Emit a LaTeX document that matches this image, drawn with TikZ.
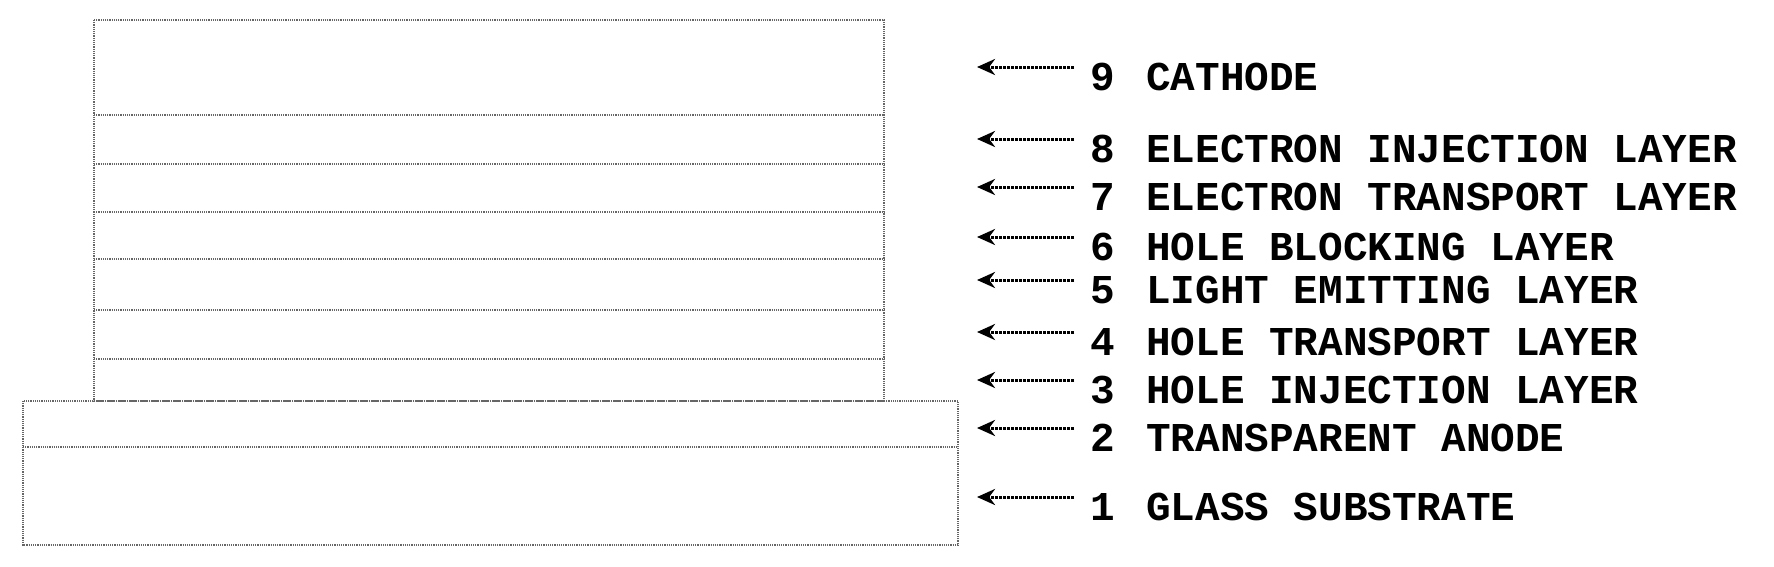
\documentclass[tikz,border=0pt]{standalone}
\usepackage{fontspec}
\setmonofont{Liberation Mono}
\usetikzlibrary{arrows.meta,positioning}

\begin{document}
\begin{tikzpicture}[x=1pt,y=-1pt,
  layer/.style={draw=black!60, densely dotted, line width=1.2pt},
  lbl/.style={anchor=west, font=\ttfamily\bfseries\fontsize{41}{41}\selectfont, inner sep=0pt},
  arrow/.style={-{Stealth[length=18pt,width=16pt]}, line width=3pt, densely dotted}
]
\useasboundingbox (0,0) rectangle (1774,566);

% Layer stack
\draw[layer] (94,20) rectangle (884,401);
\foreach \y in {115,164,212,259,310,359}
  \draw[layer] (94,\y) -- (884,\y);
\draw[layer] (23,401) rectangle (958,545);
\draw[layer] (23,447) -- (958,447);

% Labels
\foreach \n/\y/\t in {9/77/CATHODE, 8/149/ELECTRON INJECTION LAYER,
    7/197/ELECTRON TRANSPORT LAYER, 6/247/HOLE BLOCKING LAYER,
    5/290/LIGHT EMITTING LAYER, 4/342/HOLE TRANSPORT LAYER,
    3/390/HOLE INJECTION LAYER, 2/438/TRANSPARENT ANODE,
    1/507/GLASS SUBSTRATE} {
  \node[lbl] (num\n) at (1090,\y) {\n};
  \node[lbl] (txt\n) at (1146,\y) {\t};
  \coordinate (tail\n) at (1074,\y-10);
  \coordinate (tip\n) at (977,\y-10);
  \draw[arrow] (tail\n) -- (tip\n);
}

\end{tikzpicture}
\end{document}
